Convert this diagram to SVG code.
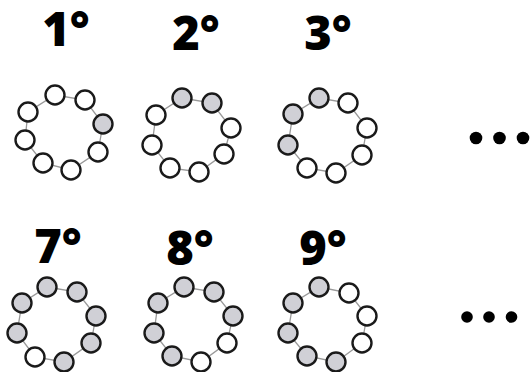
<svg xmlns="http://www.w3.org/2000/svg" width="531" height="372" viewBox="0 0 531 372">
<style>
.lbl{font-family:"Open Sans","Noto Sans","Liberation Sans",sans-serif;font-weight:800;font-size:47px;fill:#000;text-anchor:middle}
.edge{fill:none;stroke:#999;stroke-width:1.3}
.n{stroke:#1a1a1a;stroke-width:2.4;fill:#fff}
.g{fill:#d0d0d6}
.dot{fill:#000}
</style>
<rect width="531" height="372" fill="#fff"/>
<g id="connectors">
<polygon class="edge" points="55,95 85,100 103,124 98,152 71,170 43,163 25,140 28,112"/>
<polygon class="edge" points="182,98 212,103 231,128 224,154 199,172 170,168 152,145 156,115"/>
<polygon class="edge" points="319,98 348,103 367,128 362,155 336,173 307,168 288,145 293,114"/>
<polygon class="edge" points="47,287 77,292 96,316 91,343 64,362 35,357 17,333 22,303"/>
<polygon class="edge" points="184,287 214,292 233,316 227,343 201,362 172,356 154,333 158,303"/>
<polygon class="edge" points="319,287 349,293 367,316 362,343 336,362 307,356 288,333 293,303"/>
</g>
<g id="label1"><text class="lbl" x="66" y="46">1°</text></g>
<g id="label2"><text class="lbl" x="196" y="50">2°</text></g>
<g id="label3"><text class="lbl" x="328" y="50">3°</text></g>
<g id="label7"><text class="lbl" x="58" y="263">7°</text></g>
<g id="label8"><text class="lbl" x="190" y="265">8°</text></g>
<g id="label9"><text class="lbl" x="323" y="265">9°</text></g>
<g id="ring1">
<circle class="n" cx="55" cy="95" r="9.5"/><circle class="n" cx="85" cy="100" r="9.5"/><circle class="n g" cx="103" cy="124" r="9.5"/><circle class="n" cx="98" cy="152" r="9.5"/><circle class="n" cx="71" cy="170" r="9.5"/><circle class="n" cx="43" cy="163" r="9.5"/><circle class="n" cx="25" cy="140" r="9.5"/><circle class="n" cx="28" cy="112" r="9.5"/>
</g>
<g id="ring2">
<circle class="n g" cx="182" cy="98" r="9.5"/><circle class="n g" cx="212" cy="103" r="9.5"/><circle class="n" cx="231" cy="128" r="9.5"/><circle class="n" cx="224" cy="154" r="9.5"/><circle class="n" cx="199" cy="172" r="9.5"/><circle class="n" cx="170" cy="168" r="9.5"/><circle class="n" cx="152" cy="145" r="9.5"/><circle class="n" cx="156" cy="115" r="9.5"/>
</g>
<g id="ring3">
<circle class="n g" cx="319" cy="98" r="9.5"/><circle class="n" cx="348" cy="103" r="9.5"/><circle class="n" cx="367" cy="128" r="9.5"/><circle class="n" cx="362" cy="155" r="9.5"/><circle class="n" cx="336" cy="173" r="9.5"/><circle class="n" cx="307" cy="168" r="9.5"/><circle class="n g" cx="288" cy="145" r="9.5"/><circle class="n g" cx="293" cy="114" r="9.5"/>
</g>
<g id="ring7">
<circle class="n g" cx="47" cy="287" r="9.5"/><circle class="n g" cx="77" cy="292" r="9.5"/><circle class="n g" cx="96" cy="316" r="9.5"/><circle class="n g" cx="91" cy="343" r="9.5"/><circle class="n g" cx="64" cy="362" r="9.5"/><circle class="n" cx="35" cy="357" r="9.5"/><circle class="n g" cx="17" cy="333" r="9.5"/><circle class="n g" cx="22" cy="303" r="9.5"/>
</g>
<g id="ring8">
<circle class="n g" cx="184" cy="287" r="9.5"/><circle class="n g" cx="214" cy="292" r="9.5"/><circle class="n g" cx="233" cy="316" r="9.5"/><circle class="n" cx="227" cy="343" r="9.5"/><circle class="n" cx="201" cy="362" r="9.5"/><circle class="n g" cx="172" cy="356" r="9.5"/><circle class="n g" cx="154" cy="333" r="9.5"/><circle class="n g" cx="158" cy="303" r="9.5"/>
</g>
<g id="ring9">
<circle class="n g" cx="319" cy="287" r="9.5"/><circle class="n" cx="349" cy="293" r="9.5"/><circle class="n" cx="367" cy="316" r="9.5"/><circle class="n" cx="362" cy="343" r="9.5"/><circle class="n g" cx="336" cy="362" r="9.5"/><circle class="n g" cx="307" cy="356" r="9.5"/><circle class="n g" cx="288" cy="333" r="9.5"/><circle class="n g" cx="293" cy="303" r="9.5"/>
</g>
<g id="ellipsis1">
<circle class="dot" cx="476" cy="138" r="6.3"/><circle class="dot" cx="499.5" cy="138" r="6.3"/><circle class="dot" cx="523" cy="138" r="6.3"/>
</g>
<g id="ellipsis2">
<circle class="dot" cx="467" cy="317" r="5.8"/><circle class="dot" cx="489" cy="317" r="5.8"/><circle class="dot" cx="511.5" cy="317" r="5.8"/>
</g>
</svg>
